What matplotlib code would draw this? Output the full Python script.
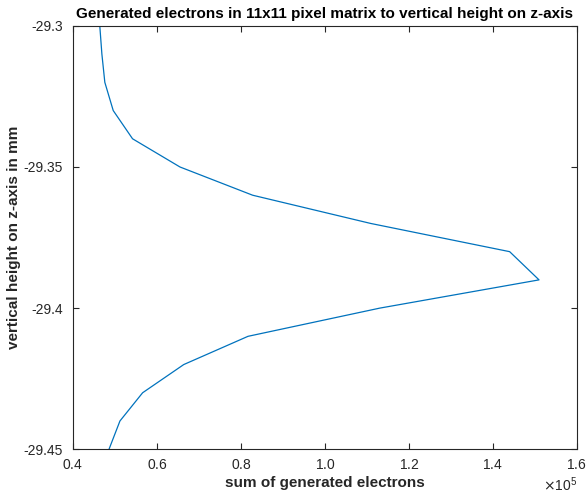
import numpy as np
import matplotlib
matplotlib.use('Agg')
import matplotlib.pyplot as plt
from matplotlib.ticker import ScalarFormatter, FuncFormatter

# sum of generated electrons (in units of 1e5) per vertical height
electrons_e5 = [0.464, 0.469, 0.476, 0.496, 0.542, 0.655, 0.828, 1.109,
                1.440, 1.510, 1.131, 0.817, 0.664, 0.566, 0.512, 0.486]
height_mm = [-29.30, -29.31, -29.32, -29.33, -29.34, -29.35, -29.36, -29.37,
             -29.38, -29.39, -29.40, -29.41, -29.42, -29.43, -29.44, -29.45]
x_ticks = [0.4e5, 0.6e5, 0.8e5, 1.0e5, 1.2e5, 1.4e5, 1.6e5]
y_ticks = [-29.45, -29.4, -29.35, -29.3]


def main():
    plt.rcParams['font.family'] = ['Liberation Sans', 'DejaVu Sans']
    plt.rcParams['font.size'] = 10

    electrons = np.array(electrons_e5) * 1e5
    fig = plt.figure(figsize=(5.88, 4.98), dpi=100)
    ax = fig.add_axes([0.124, 0.098, 0.857, 0.85])
    ax.plot(electrons, height_mm, color='#0072BD', lw=0.9)

    ax.set_xlim(0.4e5, 1.6e5)
    ax.set_ylim(-29.45, -29.3)
    ax.set_xticks(x_ticks)
    ax.set_yticks(y_ticks)

    fmt = ScalarFormatter(useMathText=True)
    fmt.set_powerlimits((0, 0))
    ax.xaxis.set_major_formatter(fmt)
    ax.yaxis.set_major_formatter(FuncFormatter(lambda v, p: '%g' % v))

    ax.tick_params(direction='in', top=True, right=True, length=4,
                   color='#262626', labelcolor='#262626', labelsize=10)
    ax.tick_params(axis='x', pad=6)
    ax.tick_params(axis='y', pad=7)
    for s in ax.spines.values():
        s.set_color('#262626')
        s.set_linewidth(0.8)
    ax.xaxis.get_offset_text().set_color('#262626')

    ax.set_xlabel('sum of generated electrons', fontweight='bold', fontsize=11,
                  color='#262626', labelpad=3)
    ax.set_ylabel('vertical height on z-axis in mm', fontweight='bold', fontsize=11,
                  color='#262626', labelpad=2)
    ax.set_title('Generated electrons in 11x11 pixel matrix to vertical height on z-axis',
                 fontweight='bold', fontsize=11, pad=6)

    fig.savefig('out.png', dpi=100)
    plt.close(fig)


if __name__ == '__main__':
    main()
